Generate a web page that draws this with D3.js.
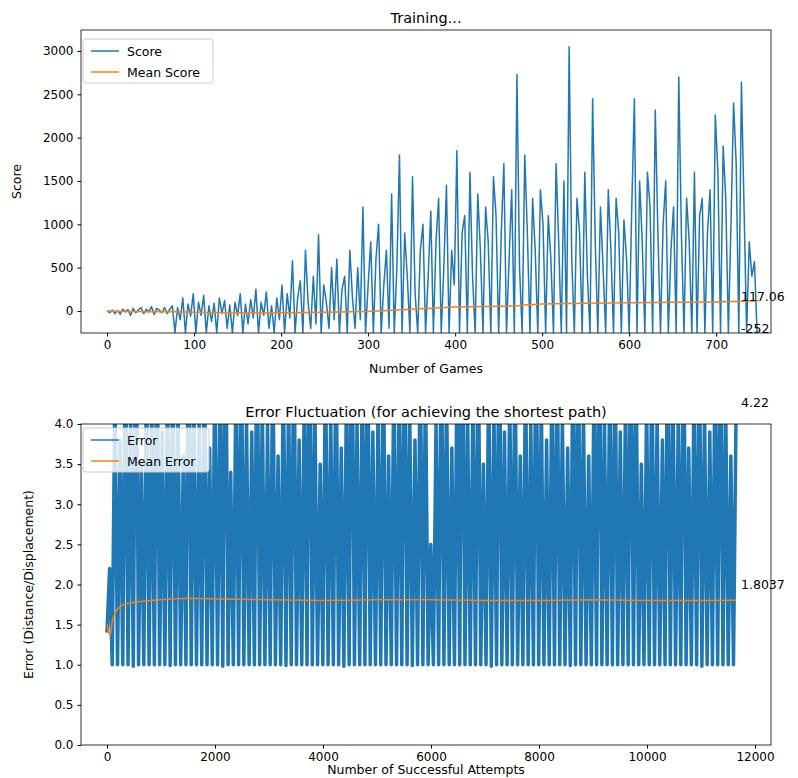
<!DOCTYPE html>
<html><head><meta charset="utf-8">
<script src="https://cdn.jsdelivr.net/npm/d3@7"></script>
<style>body{margin:0;background:#fff}svg text{font-family:"DejaVu Sans",sans-serif}</style>
</head><body><svg id="c" width="798" height="778"></svg>
<script>
const scores=[0,-20,10,-30,5,-40,20,-10,15,-50,30,-20,10,40,-30,20,-10,50,-40,30,10,-20,40,-30,20,
60,-250,40,-100,150,-250,80,-60,200,-250,100,-50,180,-250,60,-120,90,-250,150,-30,120,-200,70,-250,100,
-50,200,-250,80,-150,130,-80,250,-250,100,-50,220,-200,60,-250,150,-100,300,-250,200,-80,580,-250,150,350,
-250,700,100,-200,400,-150,880,-250,300,100,-200,500,-100,600,-250,250,400,-250,700,150,-200,500,-100,1200,-250,
300,800,-250,600,1000,-250,300,700,-200,1350,-250,500,1800,-250,900,400,-250,1550,200,-250,700,1000,-250,400,1150,
-250,800,1300,-250,500,1450,-250,700,300,1850,-250,900,1100,-250,1600,400,-250,1350,700,-250,1200,800,-250,1550,1100,
-250,900,1700,-250,600,1400,-250,2730,500,-250,1800,900,-250,1300,700,-250,1400,1000,-250,1100,600,-250,1700,800,-250,
1500,-250,3050,600,-250,1300,900,-250,1600,400,-250,2450,800,-250,1200,500,-250,1400,700,-250,1300,900,-250,1050,600,
-250,1200,2450,-250,1500,800,-250,1600,1200,-250,2320,900,-250,1000,1500,-250,700,1200,-250,2700,900,-250,1300,800,-250,
1600,-250,1100,1300,-250,900,1400,-250,2260,1600,-250,1900,1300,-250,1000,2400,1700,-250,2640,1200,-250,800,400,570,-252];
const scoreStep=3;
const meanGames=[0,25,50,75,100,125,150,175,200,250,300,350,400,450,475,480,500,550,600,650,700,749];
const meanScores=[0,-5,-8,-5,-15,-18,-20,-22,-20,-15,-5,20,45,55,60,70,80,88,95,100,105,117.06];
const errors=[1.4,2.2,1.0,4.5,1.0,3.8,1.0,5.2,1.0,4.1,0.98,6.0,1.0,3.5,1.0,4.8,1.0,4.3,1.0,5.5,
1.0,3.9,1.0,4.6,0.99,5.0,1.0,4.2,1.0,3.6,1.0,5.8,1.0,4.4,1.0,4.0,1.0,5.1,1.0,3.7,
1.0,4.9,1.0,4.5,0.98,6.2,1.0,3.4,1.0,4.7,1.0,5.3,1.0,4.1,1.0,3.9,1.0,5.6,1.0,4.3,
1.0,4.0,1.0,5.0,1.0,3.6,1.0,4.8,0.99,4.4,1.0,5.4,1.0,3.8,1.0,4.6,1.0,5.9,1.0,4.2,
1.0,3.5,1.0,4.9,1.0,4.1,1.0,5.2,1.0,3.7,0.98,4.5,1.0,6.1,1.0,4.0,1.0,4.7,1.0,5.5,
1.0,3.9,1.0,4.3,1.0,5.0,1.0,3.6,1.0,4.8,1.0,4.4,1.0,5.7,1.0,4.2,0.99,3.8,1.0,5.1,
1.0,4.6,1.0,2.5,1.0,4.0,1.0,5.3,1.0,4.5,1.0,3.7,1.0,4.9,1.0,6.0,1.0,4.1,1.0,4.3,
1.0,5.4,1.0,3.5,1.0,4.7,0.98,4.2,1.0,5.8,1.0,3.9,1.0,4.4,1.0,5.0,1.0,3.6,1.0,4.8,
1.0,4.0,1.0,5.6,1.0,4.3,1.0,3.8,1.0,4.6,1.0,5.2,1.0,4.1,1.0,3.7,0.99,4.9,1.0,5.5,
1.0,4.2,1.0,3.6,1.0,4.5,1.0,6.2,1.0,4.0,1.0,4.7,1.0,5.1,1.0,3.9,1.0,4.4,1.0,5.7,
1.0,4.8,1.0,3.5,1.0,4.3,1.0,5.0,1.0,4.1,1.0,3.8,1.0,5.4,1.0,4.6,1.0,4.0,1.0,5.9,
1.0,3.7,1.0,4.5,1.0,5.3,0.98,4.2,1.0,3.9,1.0,4.9,1.0,5.5,1.0,4.4,1.0,3.6,1.0,4.22];
const errMax=11650;
const meanErrX=[0,30,60,100,150,200,300,500,800,1200,1500,2000,3000,4000,5000,6000,7000,8000,9000,10000,11000,11650];
const meanErr=[1.5,1.4,1.37,1.55,1.65,1.7,1.75,1.78,1.8,1.82,1.83,1.82,1.81,1.8,1.81,1.81,1.8,1.8,1.81,1.8,1.8,1.8037];
const topTicksY=[0,500,1000,1500,2000,2500,3000];
const topTicksX=[0,100,200,300,400,500,600,700];
const botTicksY=[0,0.5,1,1.5,2,2.5,3,3.5,4];
const botTicksX=[0,2000,4000,6000,8000,10000,12000];
const C1="#1f77b4",C2="#ff7f0e";
const svg=d3.select("#c");
function panel(o){
  const g=svg.append("g");
  const x=d3.scaleLinear().domain(o.xd).range([o.l,o.r]);
  const y=d3.scaleLinear().domain(o.yd).range([o.b,o.t]);
  const id="clip"+o.k;
  svg.append("clipPath").attr("id",id).append("rect").attr("x",o.l).attr("y",o.t).attr("width",o.r-o.l).attr("height",o.b-o.t);
  const pl=g.append("g").attr("clip-path",`url(#${id})`);
  o.series.forEach(s=>{
    pl.append("path").datum(s.d).attr("fill","none").attr("stroke",s.c).attr("stroke-width",s.w||1.5).attr("stroke-linejoin","round")
      .attr("d",d3.line().x(d=>x(d[0])).y(d=>y(d[1])));
  });
  const xa=g.append("g").attr("transform",`translate(0,${o.b})`).call(d3.axisBottom(x).tickValues(o.xt).tickSize(3.5).tickPadding(4).tickFormat(d3.format("d")));
  const ya=g.append("g").attr("transform",`translate(${o.l},0)`).call(d3.axisLeft(y).tickValues(o.yt).tickSize(3.5).tickPadding(4).tickFormat(o.yf));
  [xa,ya].forEach(a=>{a.select(".domain").remove();a.selectAll("text").attr("font-size",12).attr("fill","#000");a.selectAll("line").attr("stroke","#000")});
  g.append("rect").attr("x",o.l).attr("y",o.t).attr("width",o.r-o.l).attr("height",o.b-o.t).attr("fill","none").attr("stroke","#000").attr("stroke-width",0.8);
  g.append("text").attr("x",(o.l+o.r)/2).attr("y",o.t-7).attr("text-anchor","middle").attr("font-size",14.5).text(o.title);
  g.append("text").attr("x",(o.l+o.r)/2).attr("y",o.b+o.xly).attr("text-anchor","middle").attr("font-size",12.5).text(o.xl);
  g.append("text").attr("transform",`translate(${o.yl[1]},${(o.t+o.b)/2}) rotate(-90)`).attr("text-anchor","middle").attr("font-size",12.5).text(o.yl[0]);
  const lg=g.append("g").attr("transform",`translate(${o.l+2},${o.t+o.lgdy})`);
  lg.append("rect").attr("width",o.lw).attr("height",44).attr("rx",3).attr("fill","#fff").attr("fill-opacity",0.8).attr("stroke","#ccc");
  o.series.forEach((s,i)=>{
    lg.append("line").attr("x1",8).attr("x2",36).attr("y1",12+i*21).attr("y2",12+i*21).attr("stroke",s.c).attr("stroke-width",1.5);
    lg.append("text").attr("x",44).attr("y",16.5+i*21).attr("font-size",12.5).text(s.n);
  });
  o.labels.forEach(L=>g.append("text").attr("x",o.r-30).attr("y",L[1]).attr("font-size",12.5).text(L[0]));
}
panel({k:1,l:81,r:771,t:30,b:333,xd:[-30,763],yd:[-254,3242],xt:topTicksX,yt:topTicksY,yf:d3.format("d"),
 title:"Training...",xl:"Number of Games",xly:40,yl:["Score",21],lw:130,lgdy:9,
 series:[{n:"Score",c:C1,d:scores.map((v,i)=>[i*scoreStep,v])},{n:"Mean Score",c:C2,d:meanGames.map((g,i)=>[g,meanScores[i]])}],
 labels:[["117.06",301],["-252",333]]});
panel({k:2,l:81,r:771,t:424,b:745,xd:[-481,12296],yd:[0,4],xt:botTicksX,yt:botTicksY,yf:d3.format(".1f"),
 title:"Error Fluctuation (for achieving the shortest path)",xl:"Number of Successful Attempts",xly:29,yl:["Error (Distance/Displacement)",33],lw:126,lgdy:4,
 series:[{n:"Error",c:C1,w:3.5,d:errors.map((v,i)=>[i*errMax/(errors.length-1),v])},{n:"Mean Error",c:C2,d:meanErrX.map((g,i)=>[g,meanErr[i]])}],
 labels:[["4.22",407],["1.8037",589]]});
</script></body></html>
